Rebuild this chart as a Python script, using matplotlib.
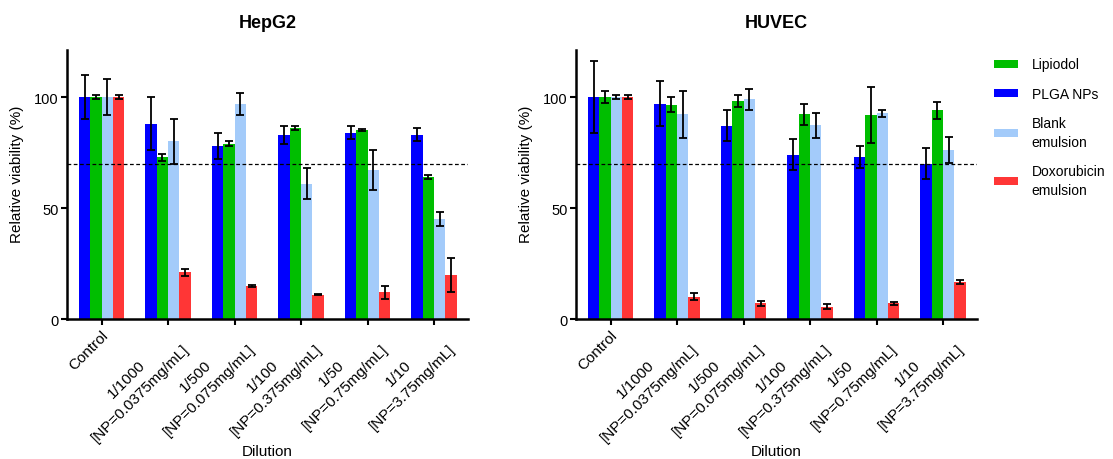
import numpy as np
import matplotlib
matplotlib.use("Agg")
import matplotlib.pyplot as plt

plt.rcParams['font.family'] = ['Liberation Sans', 'DejaVu Sans']

categories = ["Control",
              "1/1000\n[NP=0.0375mg/mL]",
              "1/500\n[NP=0.075mg/mL]",
              "1/100\n[NP=0.375mg/mL]",
              "1/50\n[NP=0.75mg/mL]",
              "1/10\n[NP=3.75mg/mL]"]

series_names = ["PLGA NPs", "Lipiodol", "Blank\nemulsion", "Doxorubicin\nemulsion"]
colors = ["#0000FF", "#00BE00", "#A3CBFA", "#FF3636"]

# HepG2 means / sd, one list per series (PLGA, Lipiodol, Blank, Dox)
hepg2_plga = [100, 88, 78, 83, 84, 83]
hepg2_plga_err = [10, 12, 6, 4, 3, 3]
hepg2_lip = [100, 72.8, 79, 86, 85, 64]
hepg2_lip_err = [1, 1.5, 1, 1, 0.5, 1]
hepg2_blank = [100, 80, 97, 61, 67, 45]
hepg2_blank_err = [8, 10, 5, 7, 9, 3]
hepg2_dox = [100, 21, 15, 11, 12, 20]
hepg2_dox_err = [1, 1.7, 0.5, 0.3, 3, 7.7]

# HUVEC
huvec_plga = [100, 97, 87, 74, 73, 70]
huvec_plga_err = [16, 10, 7, 7, 5, 7]
huvec_lip = [100, 96.5, 98, 92.2, 91.7, 94]
huvec_lip_err = [2.5, 3.3, 2.7, 4.8, 12.6, 3.7]
huvec_blank = [100, 92.2, 99, 87.2, 92.6, 76.2]
huvec_blank_err = [0.8, 10.5, 4.8, 5.5, 1.7, 5.7]
huvec_dox = [100, 10, 7, 5.6, 7, 16.7]
huvec_dox_err = [1, 1.6, 1, 1, 0.5, 1]

threshold = 70

fig = plt.figure(figsize=(11.13, 4.6), dpi=100)
ax1 = fig.add_axes([0.0602, 0.3043, 0.3603, 0.584])
ax2 = fig.add_axes([0.5175, 0.3043, 0.3603, 0.584])

x = np.arange(len(categories))
w = 0.17


def draw_panel(ax, title, means, errs):
    bars = []
    for i, (m, e) in enumerate(zip(means, errs)):
        pos = x + (i - 1.5) * w
        b = ax.bar(pos, m, w, color=colors[i], label=series_names[i], zorder=2)
        ax.errorbar(pos, m, yerr=e, fmt='none', ecolor='black', elinewidth=1.3,
                    capsize=3, capthick=1.3, zorder=3)
        bars.append(b)
    ax.axhline(threshold, color='black', ls=(0, (3, 2)), lw=0.9, zorder=4)
    ax.set_xlim(-0.52, 5.51)
    ax.set_ylim(0, 121)
    ax.set_yticks([0, 50, 100])
    ax.set_xticks(x)
    ax.set_xticklabels(categories, rotation=45, ha='right', va='top',
                       rotation_mode='anchor', multialignment='center',
                       fontsize=11, linespacing=1.45)
    ax.tick_params(axis='y', labelsize=10.5, length=4, width=1.5, pad=2)
    ax.tick_params(axis='x', length=4, width=1.5, pad=2)
    for s in ['top', 'right']:
        ax.spines[s].set_visible(False)
    for s in ['left', 'bottom']:
        ax.spines[s].set_linewidth(1.8)
    ax.set_title(title, fontsize=13, fontweight='bold', pad=17)
    ax.set_ylabel("Relative viability (%)", fontsize=11)
    ax.yaxis.set_label_coords(-0.107, 0.543)
    ax.set_xlabel("Dilution", fontsize=11)
    ax.xaxis.set_label_coords(0.5, -0.465)
    return bars


b1 = draw_panel(ax1, "HepG2",
                [hepg2_plga, hepg2_lip, hepg2_blank, hepg2_dox],
                [hepg2_plga_err, hepg2_lip_err, hepg2_blank_err, hepg2_dox_err])
draw_panel(ax2, "HUVEC",
           [huvec_plga, huvec_lip, huvec_blank, huvec_dox],
           [huvec_plga_err, huvec_lip_err, huvec_blank_err, huvec_dox_err])

# legend order: Lipiodol, PLGA, Blank, Dox
order = [1, 0, 2, 3]
leg = fig.legend([b1[i] for i in order], [series_names[i] for i in order],
                 loc='upper left', bbox_to_anchor=(0.882, 0.9), frameon=False,
                 fontsize=10, handlelength=1.7, handleheight=0.5, handletextpad=1.0,
                 labelspacing=1.1)
for t in leg.get_texts():
    t.set_linespacing(1.45)

fig.savefig("out.png", dpi=100)
